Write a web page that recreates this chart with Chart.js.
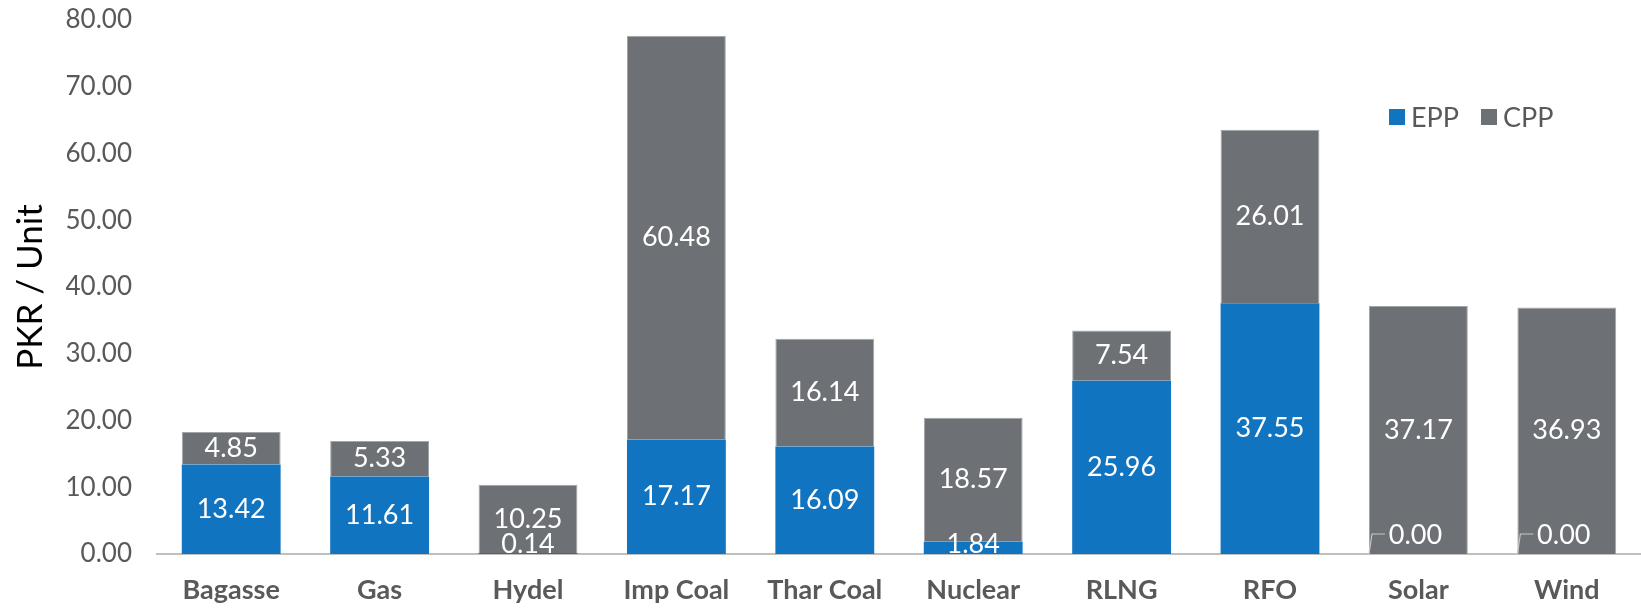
<!DOCTYPE html>
<html>
<head>
<meta charset="utf-8">
<script src="https://cdn.jsdelivr.net/npm/chart.js@4/dist/chart.umd.min.js"></script>
<style>
  html, body { margin: 0; padding: 0; background: #fff; }
  #wrap { width: 1641px; height: 610px; position: relative; }
</style>
</head>
<body>
<div id="wrap"><canvas id="costChart"></canvas></div>
<script>
// Chart data
const categories = ["Bagasse", "Gas", "Hydel", "Imp Coal", "Thar Coal", "Nuclear", "RLNG", "RFO", "Solar", "Wind"];
const eppValues = [13.42, 11.61, 0.14, 17.17, 16.09, 1.84, 25.96, 37.55, 0.0, 0.0];
const cppValues = [4.85, 5.33, 10.25, 60.48, 16.14, 18.57, 7.54, 26.01, 37.17, 36.93];
const yTicks = [0, 10, 20, 30, 40, 50, 60, 70, 80];

const BLUE = "#1174c0";
const GREY = "#6d7175";
const FONT = "Lato, 'Open Sans', sans-serif";

/**
 * Draws white value labels inside each bar segment.
 * Zero values get a small leader line, like the spreadsheet original.
 */
const valueLabels = {
  id: "valueLabels",
  afterDatasetsDraw(chart) {
    const ctx = chart.ctx;
    const bottom = chart.chartArea.bottom;
    ctx.save();
    ctx.font = "27px " + FONT;
    ctx.textAlign = "center";
    ctx.textBaseline = "middle";
    chart.data.datasets.forEach((ds, di) => {
      const meta = chart.getDatasetMeta(di);
      meta.data.forEach((bar, i) => {
        const v = ds.data[i];
        const text = v.toFixed(2);
        if (v === 0) {
          const left = bar.x - bar.width / 2;
          ctx.strokeStyle = "#c8c8c8";
          ctx.lineWidth = 1.2;
          ctx.beginPath();
          ctx.moveTo(left, bottom);
          ctx.lineTo(left + 3, bottom - 20);
          ctx.lineTo(left + 16, bottom - 20);
          ctx.stroke();
          ctx.fillStyle = "#ffffff";
          ctx.fillText(text, bar.x - 3, bottom - 19);
          return;
        }
        let y = (bar.y + bar.base) / 2;
        if (y > bottom - 10) y = bottom - 10;
        ctx.fillStyle = "#ffffff";
        ctx.fillText(text, bar.x, y);
      });
    });
    ctx.restore();
  },
};

/**
 * Small legend drawn inside the plot area, top right
 */
const insideLegend = {
  id: "insideLegend",
  afterDraw(chart) {
    const ctx = chart.ctx;
    ctx.save();
    ctx.font = "27px " + FONT;
    ctx.textBaseline = "middle";
    let x = 1389;
    const y = 117;
    chart.data.datasets.forEach((ds) => {
      ctx.fillStyle = ds.backgroundColor;
      ctx.fillRect(x, y - 8, 16, 16);
      ctx.fillStyle = "#595959";
      ctx.fillText(ds.label, x + 22, y + 1);
      x += 22 + ctx.measureText(ds.label).width + 22;
    });
    ctx.restore();
  },
};

const canvas = document.getElementById("costChart");
new Chart(canvas, {
  type: "bar",
  data: {
    labels: categories,
    datasets: [
      {
        label: "EPP",
        data: eppValues,
        backgroundColor: BLUE,
        borderWidth: 0,
        barPercentage: 0.666,
        categoryPercentage: 1,
      },
      {
        label: "CPP",
        data: cppValues,
        backgroundColor: GREY,
        borderColor: "#a3a6a9",
        borderWidth: 1,
        borderSkipped: "bottom",
        barPercentage: 0.666,
        categoryPercentage: 1,
      },
    ],
  },
  options: {
    responsive: true,
    maintainAspectRatio: false,
    animation: false,
    layout: { padding: 0 },
    plugins: {
      legend: { display: false },
      tooltip: { enabled: false },
    },
    scales: {
      x: {
        stacked: true,
        grid: { display: false, drawTicks: false },
        border: { display: true, color: "#bfbfbf", width: 2 },
        ticks: {
          color: "#595959",
          font: { family: FONT, size: 27, weight: "bold" },
          padding: 20,
          maxRotation: 0,
        },
        afterFit(scale) {
          scale.height = 56;
        },
      },
      y: {
        stacked: true,
        min: 0,
        max: 80,
        afterBuildTicks(scale) {
          scale.ticks = yTicks.map((v) => ({ value: v }));
        },
        grid: { display: false, drawTicks: false },
        border: { display: false },
        ticks: {
          color: "#595959",
          font: { family: FONT, size: 26 },
          padding: 25,
          callback: (value) => Number(value).toFixed(2),
        },
        title: {
          display: true,
          text: "PKR / Unit",
          color: "#000000",
          font: { family: FONT, size: 35 },
          padding: { top: 10, bottom: 4 },
        },
        afterFit(scale) {
          scale.width = 157;
          scale.paddingTop = 20;
          scale.paddingBottom = 0;
        },
      },
    },
  },
  plugins: [valueLabels, insideLegend],
});
</script>
</body>
</html>
